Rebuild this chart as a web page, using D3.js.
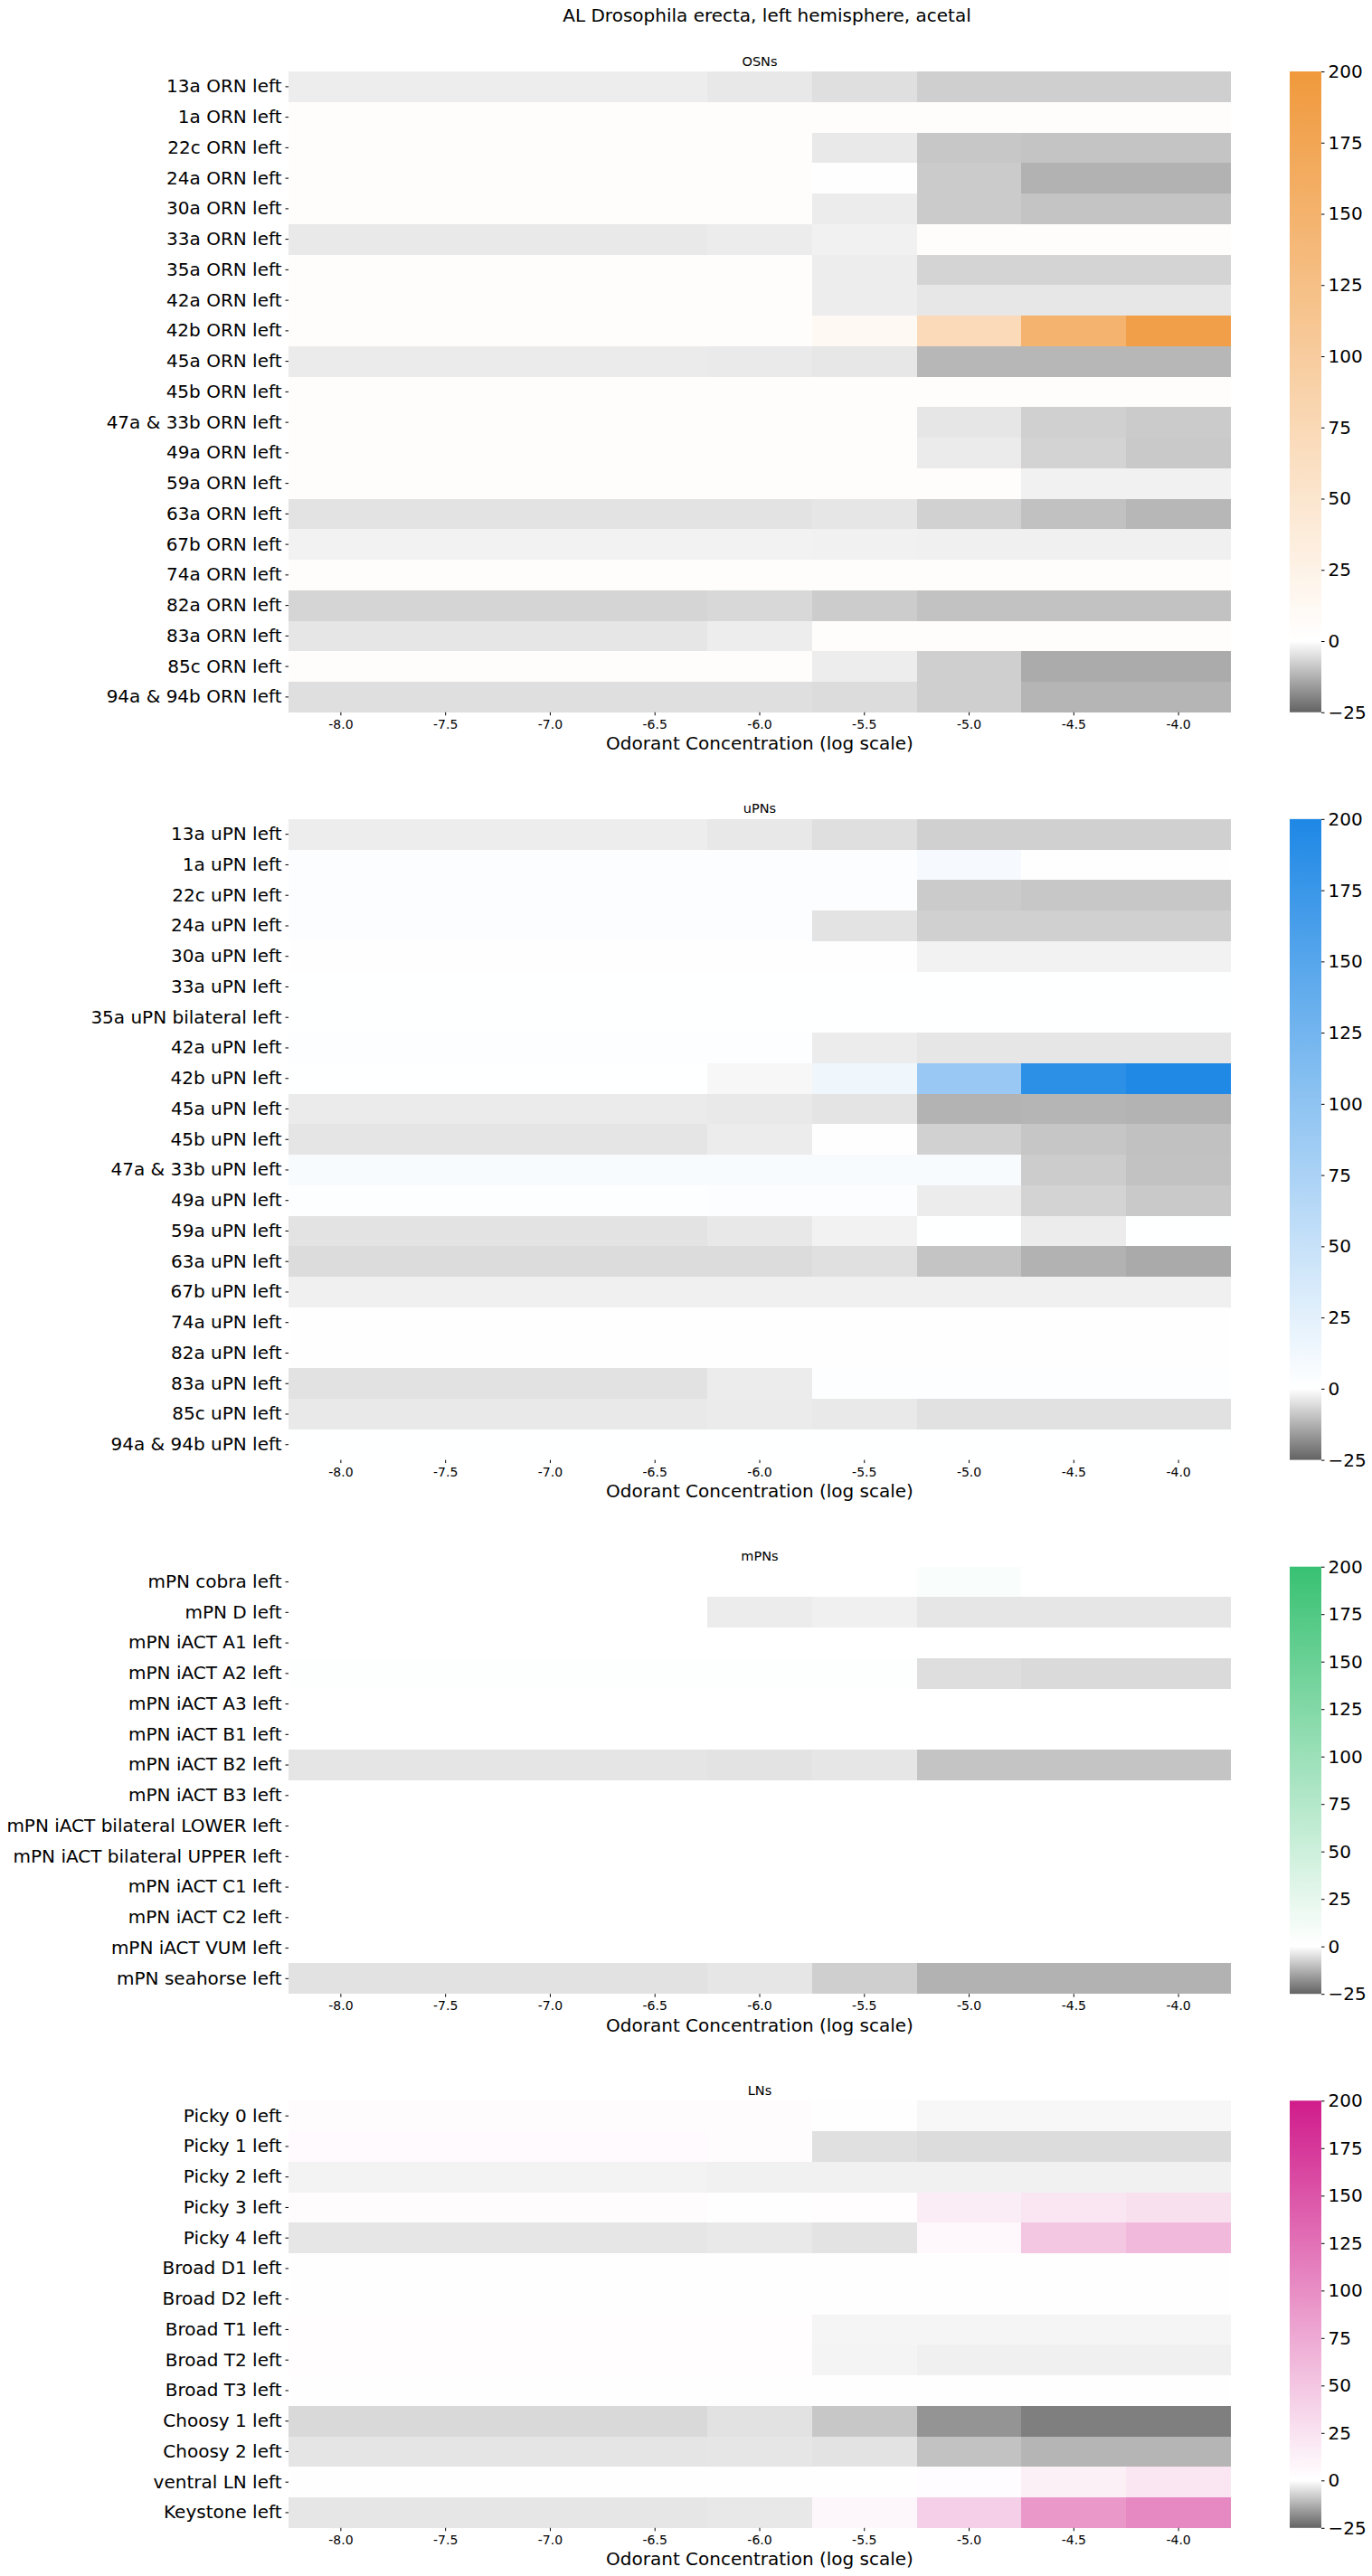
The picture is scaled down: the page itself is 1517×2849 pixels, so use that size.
<!DOCTYPE html>
<html>
<head>
<meta charset="utf-8">
<script src="https://cdn.jsdelivr.net/npm/d3@7/dist/d3.min.js"></script>
<style>
  html, body { margin: 0; padding: 0; background: #ffffff; }
  svg { display: block; font-family: "DejaVu Sans", sans-serif; }
</style>
</head>
<body>
<svg id="chart" width="1517" height="2849"></svg>
<script>
// ---------------- DATA ----------------
const figureTitle = "AL Drosophila erecta, left hemisphere, acetal";
const xAxisTitle = "Odorant Concentration (log scale)";
const concentrations = ["-8.0", "-7.5", "-7.0", "-6.5", "-6.0", "-5.5", "-5.0", "-4.5", "-4.0"];
const colorbarTicks = [-25, 0, 25, 50, 75, 100, 125, 150, 175, 200];
const valueMin = -25;
const valueMax = 200;

const osnLabels = ["13a ORN left", "1a ORN left", "22c ORN left", "24a ORN left", "30a ORN left",
  "33a ORN left", "35a ORN left", "42a ORN left", "42b ORN left", "45a ORN left", "45b ORN left",
  "47a & 33b ORN left", "49a ORN left", "59a ORN left", "63a ORN left", "67b ORN left",
  "74a ORN left", "82a ORN left", "83a ORN left", "85c ORN left", "94a & 94b ORN left"];
const osnValues = [
  [-2.9, -2.9, -2.9, -2.9, -3.7, -5.2, -7.7, -7.7, -7.7],
  [4, 4, 4, 4, 4, 4, 4, 4, 4],
  [4, 4, 4, 4, 4, -3.5, -8.9, -9.5, -9.5],
  [4, 4, 4, 4, 4, 1.5, -8.4, -12.3, -12.3],
  [4, 4, 4, 4, 4, -3.1, -8.4, -9.5, -9.5],
  [-3.5, -3.5, -3.5, -3.5, -3.1, -2.3, 4, 4, 4],
  [4, 4, 4, 4, 4, -2.9, -6.9, -6.9, -6.9],
  [4, 4, 4, 4, 3, -2.9, -3.9, -3.9, -3.9],
  [4, 4, 4, 4, 4, 12, 72, 149, 188],
  [-3.2, -3.2, -3.2, -3.2, -3.4, -3.9, -11.6, -11.6, -11.6],
  [4, 4, 4, 4, 4, 3.5, 3.5, 3.5, 3.5],
  [4, 4, 4, 4, 4, 4, -4.0, -7.6, -8.4],
  [4, 4, 4, 4, 4, 3.5, -3.2, -7.1, -8.7],
  [4, 4, 4, 4, 4, 4, 4, -2.3, -2.3],
  [-4.5, -4.5, -4.5, -4.5, -4.5, -4.0, -7.3, -10.0, -11.5],
  [-2.1, -2.1, -2.1, -2.1, -2.1, -2.3, -2.4, -2.4, -2.4],
  [4, 4, 4, 4, 4, 4, 4, 4, 4],
  [-6.8, -6.8, -6.8, -6.8, -6.3, -8.2, -9.7, -9.7, -9.7],
  [-4.0, -4.0, -4.0, -4.0, -2.9, 4, 4, 4, 4],
  [4, 4, 4, 4, 4, -2.9, -7.7, -13.5, -13.5],
  [-5.2, -5.2, -5.2, -5.2, -5.2, -5.6, -7.7, -11.9, -11.9]
];

const upnLabels = ["13a uPN left", "1a uPN left", "22c uPN left", "24a uPN left", "30a uPN left",
  "33a uPN left", "35a uPN bilateral left", "42a uPN left", "42b uPN left", "45a uPN left",
  "45b uPN left", "47a & 33b uPN left", "49a uPN left", "59a uPN left", "63a uPN left",
  "67b uPN left", "74a uPN left", "82a uPN left", "83a uPN left", "85c uPN left", "94a & 94b uPN left"];
const upnValues = [
  [-2.9, -2.9, -2.9, -2.9, -3.7, -5.2, -7.6, -7.6, -7.6],
  [3, 3, 3, 3, 3, 3, 8, 1, 1],
  [3, 3, 3, 3, 3, 3, -8.4, -8.9, -8.9],
  [3, 3, 3, 3, 3, -4.5, -7.6, -7.5, -7.5],
  [1, 1, 1, 1, 1, 1, -2.1, -2.1, -2.1],
  [0.5, 0.5, 0.5, 0.5, 0.5, 0.5, 0.5, 0.5, 0.5],
  [0.5, 0.5, 0.5, 0.5, 0.5, 0.5, 0.5, 0.5, 0.5],
  [2, 2, 2, 2, 2, -3.1, -4.0, -4.0, -4.0],
  [0.5, 0.5, 0.5, 0.5, -1.3, 14, 92, 187, 199],
  [-3.2, -3.2, -3.2, -3.2, -3.5, -4.4, -12.1, -11.8, -12.1],
  [-4.2, -4.2, -4.2, -4.2, -3.1, 1, -7.4, -9.2, -10.0],
  [6, 6, 6, 6, 6, 6, 6, -8.1, -9.7],
  [2, 2, 2, 2, 4, 4, -3.1, -7.1, -8.6],
  [-4.5, -4.5, -4.5, -4.5, -3.7, -2.1, 0.5, -3.1, 0.5],
  [-5.6, -5.6, -5.6, -5.6, -5.6, -5.0, -9.5, -12.3, -13.7],
  [-2.4, -2.4, -2.4, -2.4, -2.4, -2.4, -2.4, -2.4, -2.4],
  [1, 1, 1, 1, 1, 1, 1, 1, 1],
  [1, 1, 1, 1, 1, 1, 1, 1, 1],
  [-4.7, -4.7, -4.7, -4.7, -3.1, 2, 2, 2, 2],
  [-3.5, -3.5, -3.5, -3.5, -3.2, -3.5, -4.8, -4.8, -4.8],
  [0.5, 0.5, 0.5, 0.5, 0.5, 0.5, 0.5, 0.5, 0.5]
];

const mpnLabels = ["mPN cobra left", "mPN D left", "mPN iACT A1 left", "mPN iACT A2 left",
  "mPN iACT A3 left", "mPN iACT B1 left", "mPN iACT B2 left", "mPN iACT B3 left",
  "mPN iACT bilateral LOWER left", "mPN iACT bilateral UPPER left", "mPN iACT C1 left",
  "mPN iACT C2 left", "mPN iACT VUM left", "mPN seahorse left"];
const mpnValues = [
  [0.5, 0.5, 0.5, 0.5, 0.5, 0.5, 6, 0.5, 0.5],
  [1, 1, 1, 1, -3.1, -2.4, -4.0, -4.0, -4.0],
  [0.5, 0.5, 0.5, 0.5, 0.5, 0.5, 0.5, 0.5, 0.5],
  [2, 2, 2, 2, 2, 2, -5.3, -6.0, -6.0],
  [0.5, 0.5, 0.5, 0.5, 0.5, 0.5, 0.5, 0.5, 0.5],
  [0.5, 0.5, 0.5, 0.5, 0.5, 0.5, 0.5, 0.5, 0.5],
  [-4.2, -4.2, -4.2, -4.2, -4.5, -4.0, -9.5, -9.5, -9.5],
  [0.5, 0.5, 0.5, 0.5, 0.5, 0.5, 0.5, 0.5, 0.5],
  [0.5, 0.5, 0.5, 0.5, 0.5, 0.5, 0.5, 0.5, 0.5],
  [0.5, 0.5, 0.5, 0.5, 0.5, 0.5, 0.5, 0.5, 0.5],
  [0.5, 0.5, 0.5, 0.5, 0.5, 0.5, 0.5, 0.5, 0.5],
  [0.5, 0.5, 0.5, 0.5, 0.5, 0.5, 0.5, 0.5, 0.5],
  [0.5, 0.5, 0.5, 0.5, 0.5, 0.5, 0.5, 0.5, 0.5],
  [-4.7, -4.7, -4.7, -4.7, -4.0, -7.7, -12.4, -12.4, -12.4]
];

const lnLabels = ["Picky 0 left", "Picky 1 left", "Picky 2 left", "Picky 3 left", "Picky 4 left",
  "Broad D1 left", "Broad D2 left", "Broad T1 left", "Broad T2 left", "Broad T3 left",
  "Choosy 1 left", "Choosy 2 left", "ventral LN left", "Keystone left"];
const lnValues = [
  [3, 3, 3, 3, 3, 0.5, -1.3, -1.3, -1.3],
  [4, 4, 4, 4, 3, -5.0, -5.6, -5.6, -5.6],
  [-1.9, -1.9, -1.9, -1.9, -2.3, -2.3, -2.3, -2.3, -2.3],
  [3, 3, 3, 3, 0.5, 2, 16, 23, 27],
  [-4.0, -4.0, -4.0, -4.0, -3.5, -4.5, 6, 50, 61],
  [0.5, 0.5, 0.5, 0.5, 0.5, 0.5, 0.5, 0.5, 0.5],
  [0.5, 0.5, 0.5, 0.5, 0.5, 0.5, 0.5, 0.5, 0.5],
  [2, 2, 2, 2, 2, -1.6, -1.6, -1.6, -1.6],
  [2, 2, 2, 2, 2, -1.8, -2.4, -2.4, -2.4],
  [0.5, 0.5, 0.5, 0.5, 0.5, 0.5, 0.5, 0.5, 0.5],
  [-6.1, -6.1, -6.1, -6.1, -4.7, -8.9, -17.1, -20.5, -20.5],
  [-4.2, -4.2, -4.2, -4.2, -4.0, -4.5, -9.7, -11.9, -11.9],
  [0.5, 0.5, 0.5, 0.5, 0.5, 0.5, 2.5, 13, 22],
  [-4.0, -4.0, -4.0, -4.0, -3.7, 7, 42, 91, 105]
];

const panelTitles = ["OSNs", "uPNs", "mPNs", "LNs"];
const panelColors = ["#f0993c", "#1e88e5", "#38c172", "#d01c8b"];
const negativeColor = "#636363";

// ---------------- LAYOUT ----------------
const svg = d3.select("#chart");
const W = 1517, H = 2849;
svg.append("rect").attr("width", W).attr("height", H).attr("fill", "#ffffff");

const heatLeft = 319, heatRight = 1361;
const rowH = 33.75;
const gap = 118.1;
const firstTop = 79;
const cbLeft = 1426, cbWidth = 35;
const centerX = (heatLeft + heatRight) / 2;

const panels = [
  { title: panelTitles[0], labels: osnLabels, values: osnValues, color: panelColors[0] },
  { title: panelTitles[1], labels: upnLabels, values: upnValues, color: panelColors[1] },
  { title: panelTitles[2], labels: mpnLabels, values: mpnValues, color: panelColors[2] },
  { title: panelTitles[3], labels: lnLabels, values: lnValues, color: panelColors[3] }
];

svg.append("text")
  .attr("x", 848).attr("y", 17)
  .attr("text-anchor", "middle").attr("dominant-baseline", "central")
  .attr("font-size", 20).attr("fill", "#000")
  .text(figureTitle);

const defs = svg.append("defs");
const fmtCb = v => v < 0 ? "\u2212" + Math.abs(v) : String(v);

let panelTop = firstTop;
panels.forEach((p, pi) => {
  const nRows = p.labels.length;
  const pTop = panelTop;
  const pBottom = pTop + nRows * rowH;

  const x = d3.scaleBand().domain(concentrations).range([heatLeft, heatRight]).padding(0);
  const y = d3.scaleBand().domain(p.labels).range([pTop, pBottom]).padding(0);
  const color = d3.scaleLinear()
    .domain([valueMin, 0, valueMax])
    .range([negativeColor, "#ffffff", p.color])
    .interpolate(d3.interpolateRgb)
    .clamp(true);

  const g = svg.append("g");

  g.append("text")
    .attr("x", centerX).attr("y", pTop - 11.5)
    .attr("text-anchor", "middle").attr("dominant-baseline", "central")
    .attr("font-size", 14.5).attr("fill", "#000")
    .text(p.title);

  const cells = [];
  p.values.forEach((row, ri) => row.forEach((v, ci) => cells.push({ r: p.labels[ri], c: concentrations[ci], v })));
  g.append("g").selectAll("rect").data(cells).join("rect")
    .attr("x", d => x(d.c)).attr("y", d => y(d.r))
    .attr("width", x.bandwidth()).attr("height", y.bandwidth())
    .attr("fill", d => color(d.v))
    .attr("shape-rendering", "crispEdges");

  const yAx = g.append("g").attr("transform", `translate(${heatLeft},0)`)
    .call(d3.axisLeft(y).tickSize(3.5).tickPadding(4));
  yAx.select(".domain").remove();
  yAx.selectAll("text").attr("font-size", 20).attr("font-family", "DejaVu Sans").attr("fill", "#000");
  yAx.selectAll("line").attr("stroke", "#000").attr("stroke-width", 1);

  const xAx = g.append("g").attr("transform", `translate(0,${pBottom})`)
    .call(d3.axisBottom(x).tickSize(3.5).tickPadding(4.5));
  xAx.select(".domain").remove();
  xAx.selectAll("text").attr("font-size", 14).attr("font-family", "DejaVu Sans").attr("fill", "#000");
  xAx.selectAll("line").attr("stroke", "#000").attr("stroke-width", 1);

  g.append("text")
    .attr("x", centerX).attr("y", pBottom + 34.5)
    .attr("text-anchor", "middle").attr("dominant-baseline", "central")
    .attr("font-size", 20).attr("fill", "#000")
    .text(xAxisTitle);

  const cb = d3.scaleLinear().domain([valueMin, valueMax]).range([pBottom, pTop]);
  const gradId = "grad" + pi;
  const grad = defs.append("linearGradient").attr("id", gradId)
    .attr("x1", 0).attr("y1", 1).attr("x2", 0).attr("y2", 0);
  const stops = d3.range(0, 1.0001, 1 / 90);
  grad.selectAll("stop").data(stops).join("stop")
    .attr("offset", t => t)
    .attr("stop-color", t => color(valueMin + t * (valueMax - valueMin)));
  g.append("rect")
    .attr("x", cbLeft).attr("y", pTop)
    .attr("width", cbWidth).attr("height", pBottom - pTop)
    .attr("fill", `url(#${gradId})`);
  const cAx = g.append("g").attr("transform", `translate(${cbLeft + cbWidth},0)`)
    .call(d3.axisRight(cb).tickValues(colorbarTicks).tickFormat(fmtCb).tickSize(3.5).tickPadding(4));
  cAx.select(".domain").remove();
  cAx.selectAll("text").attr("font-size", 20).attr("font-family", "DejaVu Sans").attr("fill", "#000");
  cAx.selectAll("line").attr("stroke", "#000").attr("stroke-width", 1);

  panelTop = pBottom + gap;
});
</script>
</body>
</html>
